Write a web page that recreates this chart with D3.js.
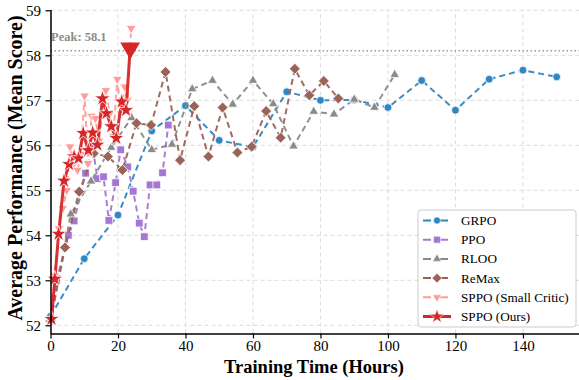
<!DOCTYPE html>
<html>
<head>
<meta charset="utf-8">
<script src="https://cdn.jsdelivr.net/npm/d3@7"></script>
<style>
  body { margin: 0; background: #fff; }
  text { font-family: "Liberation Serif", "Times New Roman", serif; }
</style>
</head>
<body>
<svg id="chart" width="579" height="380"></svg>
<script>
// hours / scores
const grpoX = [0, 10, 20, 30, 40, 50, 60, 70, 80, 90, 100, 110, 120, 130, 140, 150];
const grpoY = [52.2, 53.48, 54.45, 56.32, 56.88, 56.11, 55.96, 57.19, 57.0, 57.01, 56.84, 57.44, 56.78, 57.47, 57.67, 57.52];

const ppoX = [0, 1.8, 5.3, 7.0, 10.4, 12.5, 13.9, 15.7, 17.3, 19.3, 20.8, 22.9, 24.5, 26.3, 27.8, 29.5, 31.5, 33.2, 34.9];
const ppoY = [52.1, 53.0, 54.0, 54.32, 55.38, 55.95, 55.26, 55.3, 54.33, 55.17, 55.9, 55.52, 54.98, 54.27, 53.97, 55.12, 55.12, 55.39, 56.45];

const rlooX = [0, 6, 12, 18, 24, 30, 36, 42, 48, 54, 60, 66, 72, 78, 84, 90, 96, 102];
const rlooY = [52.1, 54.47, 55.2, 55.95, 56.61, 55.9, 56.02, 57.25, 57.44, 56.91, 57.44, 56.92, 55.98, 56.75, 56.69, 57.02, 56.84, 57.57];

const remaxX = [0, 4.3, 8.5, 12.8, 17.0, 21.3, 25.5, 29.8, 34.1, 38.4, 42.6, 46.8, 51.0, 55.4, 59.6, 63.9, 68.2, 72.4, 76.7, 81.0, 85.3];
const remaxY = [52.1, 53.73, 54.97, 55.82, 55.75, 55.45, 56.49, 56.45, 57.63, 55.67, 56.87, 55.75, 56.84, 55.84, 55.97, 56.76, 56.17, 57.7, 57.11, 57.43, 57.04];

const smallX = [0, 1.3, 2.5, 3.6, 4.8, 5.8, 6.9, 8.0, 9.0, 10.1, 11.1, 12.2, 13.3, 14.4, 15.4, 16.4, 17.5, 18.6, 19.8, 20.9, 22.0, 22.8, 23.9];
const smallY = [52.1, 53.1, 54.15, 54.6, 55.0, 55.97, 55.6, 55.45, 55.8, 57.1, 55.6, 56.65, 56.6, 56.1, 56.7, 57.22, 56.69, 56.2, 57.47, 56.7, 57.3, 57.0, 58.6];

const oursX = [0.3, 1.3, 2.4, 4.0, 5.5, 7.0, 8.3, 9.7, 11.2, 12.5, 13.9, 15.4, 16.6, 18.0, 19.5, 21.1, 22.4, 23.6];
const oursY = [52.14, 53.03, 54.03, 55.21, 55.58, 55.75, 55.71, 56.27, 55.89, 56.28, 56.01, 57.04, 56.71, 56.42, 56.16, 56.97, 56.78, 58.16];

const peakValue = 58.1;
const xTicks = [0, 20, 40, 60, 80, 100, 120, 140];
const yTicks = [52, 53, 54, 55, 56, 57, 58, 59];

const series = [
  { name: "GRPO", xs: grpoX, ys: grpoY, color: "#2f86c2", symbol: "circle", dash: "6,4", width: 2, size: 48 },
  { name: "PPO", xs: ppoX, ys: ppoY, color: "#a478d2", symbol: "square", dash: "6,4", width: 2, size: 60 },
  { name: "RLOO", xs: rlooX, ys: rlooY, color: "#8a8a8a", symbol: "triangle", dash: "6,4", width: 2, size: 40 },
  { name: "ReMax", xs: remaxX, ys: remaxY, color: "#9b6257", symbol: "diamond", dash: "6,4", width: 2, size: 60 },
  { name: "SPPO (Small Critic)", xs: smallX, ys: smallY, color: "#ff9c9a", symbol: "triangleDown", dash: "6,4", width: 2, size: 40 },
  { name: "SPPO (Ours)", xs: oursX, ys: oursY, color: "#d62728", symbol: "star", dash: null, width: 3, size: 80 }
];

const svg = d3.select("#chart");
const x = d3.scaleLinear().domain([0, 157.5]).range([50.5, 582]);
const y = d3.scaleLinear().domain([51.82, 59.02]).range([333.4, 9.4]);

function symbolPath(kind, size) {
  const types = { circle: d3.symbolCircle, square: d3.symbolSquare, triangle: d3.symbolTriangle,
    triangleDown: d3.symbolTriangle, diamond: d3.symbolSquare, star: d3.symbolStar };
  return d3.symbol().type(types[kind]).size(size)();
}
function symbolRotate(kind) {
  if (kind === "triangleDown") return 180;
  if (kind === "diamond") return 45;
  return 0;
}

// grid
const grid = svg.append("g");
grid.selectAll(".gx").data(xTicks).join("line")
  .attr("x1", d => x(d)).attr("x2", d => x(d))
  .attr("y1", y.range()[0]).attr("y2", y.range()[1])
  .attr("stroke", "#dcdcdc").attr("stroke-width", 1).attr("stroke-dasharray", "4,3");
grid.selectAll(".gy").data(yTicks).join("line")
  .attr("x1", x.range()[0]).attr("x2", x.range()[1])
  .attr("y1", d => y(d)).attr("y2", d => y(d))
  .attr("stroke", "#dcdcdc").attr("stroke-width", 1).attr("stroke-dasharray", "4,3");

// peak line
svg.append("line")
  .attr("x1", x.range()[0]).attr("x2", x.range()[1])
  .attr("y1", y(peakValue)).attr("y2", y(peakValue))
  .attr("stroke", "#999").attr("stroke-width", 1.5).attr("stroke-dasharray", "1.5,2.5");
svg.append("text")
  .attr("x", 51).attr("y", 41)
  .attr("font-size", 12.5).attr("font-weight", "bold").attr("fill", "#8c8c8c")
  .text("Peak: " + peakValue);

// series
const line = d3.line().x(d => x(d[0])).y(d => y(d[1]));
series.forEach((s, si) => {
  const pts = s.xs.map((v, i) => [v, s.ys[i]]);
  const g = svg.append("g");
  g.append("path").datum(pts)
    .attr("d", line)
    .attr("fill", "none")
    .attr("stroke", s.color)
    .attr("stroke-width", s.width)
    .attr("stroke-dasharray", s.dash)
    .attr("stroke-linejoin", "round")
    .attr("opacity", 0.95);
  const markPts = si === series.length - 1 ? pts.slice(0, -1) : pts;
  g.selectAll("path.m").data(markPts).join("path")
    .attr("class", "m")
    .attr("d", symbolPath(s.symbol, s.size))
    .attr("transform", d => `translate(${x(d[0])},${y(d[1])}) rotate(${symbolRotate(s.symbol)})`)
    .attr("fill", s.color)
    .attr("stroke", "#fff")
    .attr("stroke-width", 0.8);
});

// big peak marker on the last point of ours
const lastOurs = [oursX[oursX.length - 1], oursY[oursY.length - 1]];
svg.append("path")
  .attr("d", d3.symbol().type(d3.symbolTriangle).size(170)())
  .attr("transform", `translate(${x(lastOurs[0])},${y(lastOurs[1])}) rotate(180)`)
  .attr("fill", "#d62728");

// axes
const xAxis = svg.append("g").attr("transform", `translate(0,${y.range()[0]})`)
  .call(d3.axisBottom(x).tickValues(xTicks).tickSize(5).tickPadding(2).tickSizeOuter(0));
const yAxis = svg.append("g").attr("transform", `translate(${x.range()[0]},0)`)
  .call(d3.axisLeft(y).tickValues(yTicks).tickSize(5).tickSizeOuter(0));
[xAxis, yAxis].forEach(a => {
  a.select(".domain").attr("stroke", "#000").attr("stroke-width", 1.5);
  a.selectAll(".tick line").attr("stroke", "#000").attr("stroke-width", 1.2);
  a.selectAll(".tick text").attr("font-family", "Liberation Serif, serif").attr("font-size", 15).attr("fill", "#000");
});
yAxis.selectAll(".tick text").attr("dx", "-0.1em");

svg.append("text")
  .attr("x", 314).attr("y", 373)
  .attr("text-anchor", "middle").attr("font-size", 18.5).attr("font-weight", "bold")
  .text("Training Time (Hours)");
svg.append("text")
  .attr("transform", "translate(22,168) rotate(-90)")
  .attr("text-anchor", "middle").attr("font-size", 20).attr("font-weight", "bold")
  .text("Average Performance (Mean Score)");

// legend
const lg = svg.append("g").attr("transform", "translate(418,210)");
lg.append("rect").attr("width", 158).attr("height", 117).attr("rx", 3)
  .attr("fill", "#fff").attr("fill-opacity", 0.9).attr("stroke", "#cccccc");
series.forEach((s, i) => {
  const row = lg.append("g").attr("transform", `translate(0,${10.5 + i * 19.2})`);
  row.append("line").attr("x1", 5).attr("x2", 33).attr("y1", 0).attr("y2", 0)
    .attr("stroke", s.color).attr("stroke-width", s.width)
    .attr("stroke-dasharray", s.dash ? "8,3,3,3" : null);
  row.append("path")
    .attr("d", symbolPath(s.symbol, s.size * 0.8))
    .attr("transform", `translate(19,0) rotate(${symbolRotate(s.symbol)})`)
    .attr("fill", s.color).attr("stroke", "#fff").attr("stroke-width", 0.6);
  row.append("text").attr("x", 43).attr("y", 4.5).attr("font-size", 13.2).text(s.name);
});
</script>
</body>
</html>
